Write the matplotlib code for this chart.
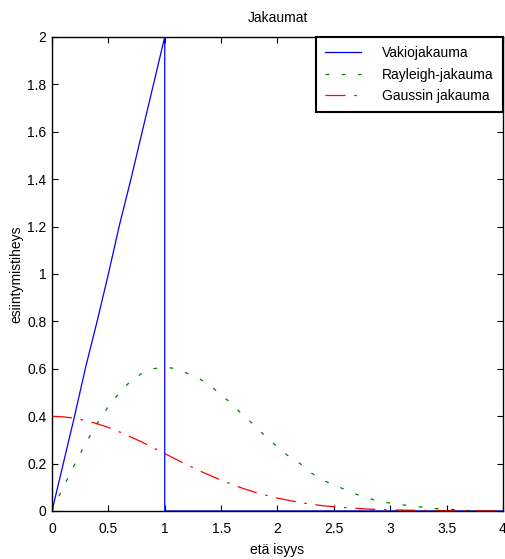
import matplotlib
matplotlib.use('Agg')
import matplotlib.pyplot as plt

plt.rcParams['font.family'] = ['Liberation Sans', 'DejaVu Sans']

# Vakiojakauma (blue)
vakio_x = [0, 0.1, 0.2, 0.3, 0.4, 0.5, 0.6, 0.7, 0.8, 0.9, 1.0, 1.0, 4.0]
vakio_y = [0, 0.2, 0.4, 0.61, 0.8, 1.0, 1.21, 1.4, 1.6, 1.8, 2.0, 0, 0]

# Rayleigh-jakauma (green)
ray_x = [0, 0.1, 0.2, 0.3, 0.4, 0.5, 0.6, 0.7, 0.8, 0.9, 1.0, 1.1, 1.2, 1.3, 1.4,
         1.5, 1.6, 1.7, 1.8, 1.9, 2.0, 2.1, 2.2, 2.3, 2.4, 2.5, 2.6, 2.7, 2.8,
         2.9, 3.0, 3.2, 3.4, 3.6, 3.7]
ray_y = [0, 0.1, 0.196, 0.287, 0.368, 0.441, 0.5, 0.549, 0.581, 0.6, 0.607, 0.6,
         0.58, 0.56, 0.53, 0.49, 0.45, 0.4, 0.36, 0.31, 0.27, 0.23, 0.2, 0.16,
         0.13, 0.11, 0.09, 0.07, 0.055, 0.04, 0.033, 0.02, 0.01, 0.005, 0.002]

# Gaussin jakauma (red)
gauss_x = [0, 0.1, 0.2, 0.3, 0.4, 0.5, 0.6, 0.7, 0.8, 0.9, 1.0, 1.1, 1.2, 1.3,
           1.4, 1.5, 1.6, 1.7, 1.8, 1.9, 2.0, 2.2, 2.4, 2.6, 2.8, 3.0, 3.5, 4.0]
gauss_y = [0.399, 0.397, 0.391, 0.381, 0.368, 0.352, 0.333, 0.312, 0.29, 0.266,
           0.242, 0.218, 0.194, 0.171, 0.15, 0.13, 0.111, 0.094, 0.079, 0.066,
           0.054, 0.035, 0.022, 0.014, 0.008, 0.004, 0.001, 0]

xticks = [0, 0.5, 1, 1.5, 2, 2.5, 3, 3.5, 4]
xticklabels = ['0', '0.5', '1', '1.5', '2', '2.5', '3', '3.5', '4']
yticks = [0, 0.2, 0.4, 0.6, 0.8, 1, 1.2, 1.4, 1.6, 1.8, 2]
yticklabels = ['0', '0.2', '0.4', '0.6', '0.8', '1', '1.2', '1.4', '1.6', '1.8', '2']

fig = plt.figure(figsize=(5.05, 5.59), dpi=100)
ax = fig.add_axes([0.103, 0.086, 0.893, 0.848])

ax.plot(vakio_x, vakio_y, color='#0000ff', lw=0.9, label='Vakiojakauma')
ax.plot(ray_x, ray_y, color='#008000', lw=0.9, linestyle=(0, (3, 10)), label='Rayleigh-jakauma')
ax.plot(gauss_x, gauss_y, color='#ff0000', lw=0.9, linestyle=(0, (16, 7, 2, 7)), label='Gaussin jakauma')

ax.set_xlim(0, 4)
ax.set_ylim(0, 2)
ax.set_xticks(xticks)
ax.set_xticklabels(xticklabels)
ax.set_yticks(yticks)
ax.set_yticklabels(yticklabels)
ax.tick_params(direction='in', top=True, right=True, labelsize=10, length=4, width=0.8)
ax.tick_params(axis='x', pad=8)
ax.tick_params(axis='y', pad=4)
for s in ax.spines.values():
    s.set_linewidth(1.0)

ax.set_title('Jakaumat', fontsize=10, pad=11)
ax.set_xlabel('etä isyys', fontsize=10, labelpad=5)
ax.set_ylabel('esiintymistiheys', fontsize=10, labelpad=3)

leg = ax.legend(loc='upper right', borderaxespad=0, fontsize=10, fancybox=False,
                edgecolor='black', framealpha=1, handlelength=2.6, handletextpad=1.5,
                borderpad=0.65, labelspacing=0.55)
leg.get_frame().set_linewidth(1.5)

fig.savefig('out.png', dpi=100)
